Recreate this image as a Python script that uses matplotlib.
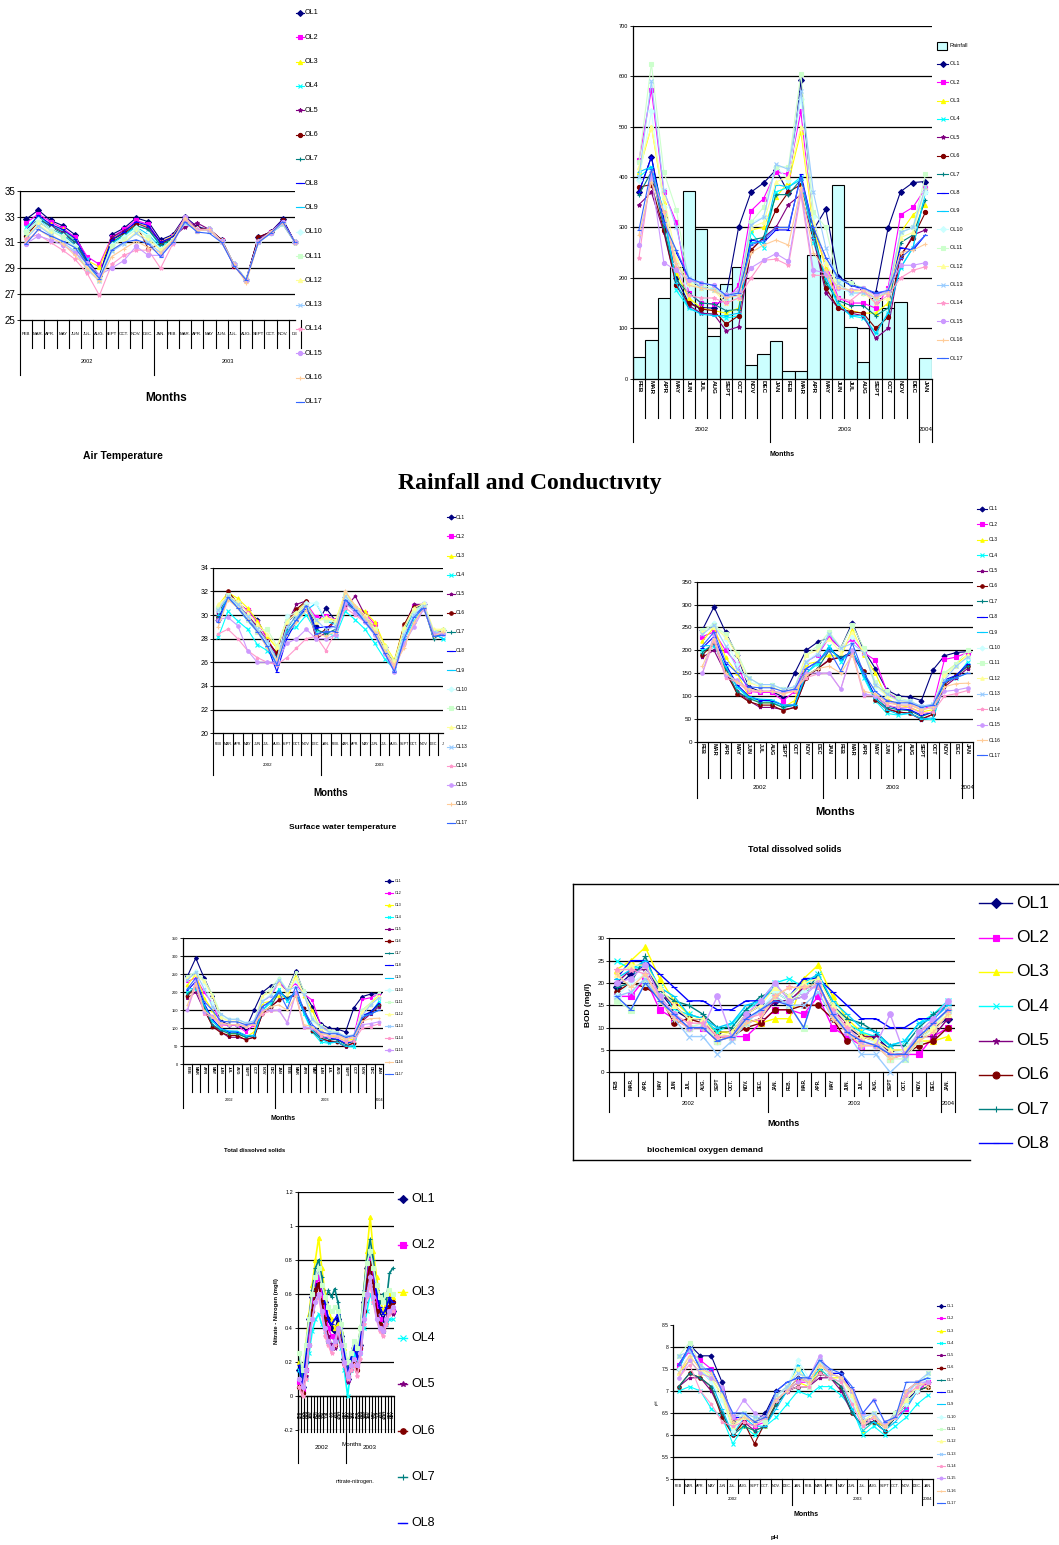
import matplotlib
matplotlib.use("Agg")
import matplotlib.pyplot as plt
import matplotlib.transforms as mtransforms
from matplotlib.lines import Line2D
from matplotlib.patches import Rectangle
import numpy as np

W, H = 1059, 1545
NARROW = ['Liberation Sans', 'DejaVu Sans']
ARIAL = ['Liberation Sans', 'DejaVu Sans']

# ---------------- data ----------------
sites = ['OL%d' % i for i in range(1, 18)]
site_colors = ['#000080', '#FF00FF', '#FFFF00', '#00FFFF', '#800080', '#800000',
               '#008080', '#0000FF', '#00CCFF', '#CCFFFF', '#CCFFCC', '#FFFF99',
               '#99CCFF', '#FF99CC', '#CC99FF', '#FFCC99', '#3366FF']
site_markers = ['D', 's', '^', 'x', '*', 'o', '+', '_', '_',
                'D', 's', '^', 'x', '*', 'o', '+', '_']

months = ["FEB", "MAR.", "APR.", "MAY", "JUN", "JUL.", "AUG.", "SEPT", "OCT.", "NOV.",
          "DEC.", "JAN.", "FEB.", "MAR.", "APR.", "MAY", "JUN.", "JUL.", "AUG.", "SEPT",
          "OCT.", "NOV.", "DEC.", "JAN."]
months_plain = ["FEB", "MAR", "APR", "MAY", "JUN", "JUL", "AUG", "SEPT", "OCT", "NOV",
                "DEC", "JAN", "FEB", "MAR", "APR", "MAY", "JUN", "JUL", "AUG", "SEPT",
                "OCT", "NOV", "DEC", "JAN"]
nitrate_labels = ["FEB", "FEB", "MAR", "MAR", "APR", "APR", "MAY", "MAY", "JUN", "JUN",
                  "JUL", "JUL", "AUG", "SEPT", "OCT", "NOV", "DEC", "JAN", "FEB", "MAR",
                  "MAR", "APR", "APR", "MAY", "JUN", "JUL", "AUG", "SEPT", "OCT", "NOV"]

# air temperature, FEB 2002 .. DEC 2003
air_temp = [
    [32.8, 33.5, 32.7, 32.3, 31.6, 29.7, 28.4, 31.6, 32.1, 32.9, 32.6, 31.2, 31.6, 33.0, 32.2, 32.0, 31.2, 29.3, 28.1, 31.4, 31.8, 32.8, 31.0],
    [32.5, 33.2, 32.6, 32.1, 31.4, 29.9, 29.3, 31.4, 32.0, 32.7, 32.4, 31.0, 31.5, 32.9, 32.1, 32.0, 31.2, 29.2, 28.1, 31.3, 31.8, 32.6, 31.0],
    [32.0, 33.0, 32.4, 32.0, 31.2, 29.6, 29.1, 31.3, 31.8, 32.5, 32.2, 31.0, 31.5, 32.8, 32.0, 32.0, 31.2, 29.3, 28.1, 31.2, 31.8, 32.6, 31.0],
    [32.2, 33.0, 32.3, 31.9, 31.1, 29.7, 28.2, 31.0, 31.6, 32.3, 32.0, 30.7, 31.4, 32.7, 32.0, 32.0, 31.1, 29.3, 28.1, 31.1, 31.7, 32.5, 31.0],
    [31.8, 32.8, 32.3, 31.8, 31.0, 29.5, 28.2, 31.4, 31.9, 32.5, 32.1, 31.0, 31.4, 32.2, 32.5, 32.0, 31.2, 29.3, 28.1, 31.4, 31.8, 32.7, 31.0],
    [31.5, 32.6, 32.0, 31.6, 30.8, 29.4, 28.2, 31.2, 31.7, 32.4, 30.5, 30.9, 31.3, 32.8, 32.1, 32.0, 31.2, 29.2, 28.1, 31.4, 31.8, 32.7, 31.0],
    [31.6, 32.9, 32.2, 31.7, 31.0, 29.5, 28.3, 31.0, 31.6, 32.3, 32.0, 30.8, 31.3, 32.7, 32.0, 32.0, 31.1, 29.3, 28.1, 31.2, 31.7, 32.4, 31.0],
    [31.9, 33.1, 32.4, 32.0, 31.3, 29.6, 28.3, 31.2, 31.8, 32.6, 32.3, 31.0, 31.4, 32.8, 32.0, 32.0, 31.1, 29.3, 28.1, 31.2, 31.8, 32.7, 31.0],
    [31.7, 32.8, 32.0, 31.6, 30.8, 29.3, 28.2, 30.9, 31.5, 32.2, 31.6, 30.6, 31.2, 32.7, 32.0, 32.0, 31.1, 29.3, 28.1, 31.1, 31.7, 32.5, 31.0],
    [31.9, 32.7, 32.0, 31.5, 30.7, 29.2, 28.3, 30.8, 31.4, 32.1, 31.5, 30.5, 31.2, 32.6, 32.0, 32.0, 31.1, 29.3, 28.1, 31.0, 31.7, 32.5, 31.0],
    [31.8, 32.6, 31.9, 31.4, 30.6, 29.1, 28.2, 30.7, 31.3, 32.0, 31.4, 30.4, 31.2, 32.6, 31.9, 32.0, 31.1, 29.3, 28.2, 31.0, 31.7, 32.4, 31.0],
    [31.4, 32.4, 31.7, 31.0, 30.3, 29.0, 28.1, 30.4, 31.0, 31.8, 31.2, 30.4, 31.2, 32.6, 31.9, 32.0, 31.1, 29.3, 28.1, 31.1, 31.8, 32.5, 31.0],
    [31.3, 32.3, 31.6, 31.0, 30.3, 28.9, 28.0, 30.3, 30.9, 31.7, 31.0, 30.2, 31.1, 32.5, 31.9, 32.0, 31.0, 29.3, 28.1, 31.0, 31.7, 32.4, 31.0],
    [31.3, 31.6, 31.0, 30.4, 29.7, 28.6, 26.9, 29.3, 30.0, 30.4, 30.4, 29.0, 30.9, 32.7, 32.0, 32.0, 31.0, 29.3, 28.0, 31.1, 31.8, 32.6, 31.0],
    [30.9, 31.5, 31.2, 30.8, 30.2, 29.4, 28.5, 29.0, 29.6, 30.7, 30.0, 30.0, 31.0, 33.0, 31.9, 32.0, 31.1, 29.3, 28.1, 31.0, 31.7, 32.6, 31.0],
    [31.0, 32.0, 31.4, 30.9, 30.0, 29.0, 28.0, 29.9, 30.5, 31.1, 30.6, 30.2, 31.1, 32.9, 31.9, 32.0, 31.0, 29.3, 27.9, 31.0, 31.8, 32.5, 31.0],
    [30.9, 32.0, 31.5, 31.1, 30.6, 29.3, 28.2, 30.4, 31.0, 31.2, 30.9, 29.9, 31.0, 32.6, 31.8, 31.7, 31.0, 29.2, 28.1, 31.0, 31.7, 32.6, 31.0],
]

# monthly rainfall (bars), FEB 2002 .. JAN 2004
rainfall = [43, 77, 160, 222, 373, 297, 85, 188, 222, 28, 49, 75,
            16, 16, 246, 205, 384, 102, 34, 160, 140, 152, 0, 42]

# conductivity, FEB 2002 .. JAN 2004
conductivity = [
    [370, 440, 320, 200, 150, 141, 140, 165, 300, 370, 388, 414, 369, 592, 295, 336, 202, 189, 177, 169, 299, 371, 389, 391],
    [433, 573, 370, 310, 170, 150, 148, 155, 185, 333, 357, 410, 405, 530, 300, 230, 160, 150, 150, 140, 180, 325, 340, 378],
    [410, 500, 350, 210, 160, 140, 135, 130, 140, 295, 300, 360, 390, 490, 300, 220, 150, 135, 130, 130, 150, 290, 325, 345],
    [400, 420, 330, 175, 140, 130, 128, 120, 125, 290, 260, 370, 380, 400, 270, 200, 145, 125, 120, 90, 130, 220, 260, 370],
    [345, 370, 290, 185, 145, 130, 128, 95, 103, 255, 280, 300, 345, 365, 280, 170, 140, 130, 125, 80, 100, 240, 285, 295],
    [380, 385, 295, 185, 150, 138, 135, 108, 125, 255, 280, 335, 370, 385, 290, 180, 140, 133, 130, 100, 122, 245, 280, 330],
    [365, 410, 300, 195, 170, 150, 148, 135, 137, 275, 280, 365, 365, 395, 295, 190, 155, 145, 145, 125, 140, 270, 285, 355],
    [370, 440, 310, 250, 200, 180, 178, 165, 165, 275, 270, 295, 295, 405, 300, 240, 200, 185, 178, 170, 172, 260, 255, 285],
    [410, 420, 330, 190, 140, 128, 125, 125, 130, 270, 270, 385, 380, 395, 280, 200, 150, 125, 125, 90, 130, 220, 260, 370],
    [395, 530, 340, 230, 185, 180, 178, 165, 170, 310, 320, 420, 395, 555, 320, 230, 180, 170, 170, 160, 170, 290, 300, 370],
    [430, 625, 410, 335, 195, 185, 180, 160, 175, 310, 340, 420, 420, 605, 330, 300, 195, 190, 180, 160, 175, 290, 300, 405],
    [420, 500, 360, 240, 190, 180, 175, 150, 160, 300, 310, 390, 400, 500, 310, 230, 185, 175, 170, 150, 160, 280, 290, 380],
    [400, 590, 375, 300, 200, 180, 175, 160, 170, 305, 320, 425, 415, 570, 370, 260, 190, 170, 170, 160, 172, 290, 300, 380],
    [240, 410, 330, 220, 165, 160, 160, 150, 160, 200, 235, 237, 225, 365, 205, 205, 160, 155, 175, 150, 165, 200, 215, 222],
    [265, 400, 230, 215, 195, 190, 185, 165, 175, 220, 235, 248, 233, 375, 215, 210, 180, 175, 180, 165, 175, 225, 225, 230],
    [285, 390, 330, 230, 185, 180, 175, 160, 165, 250, 265, 275, 265, 380, 250, 215, 180, 175, 175, 160, 170, 250, 255, 267],
    [295, 415, 310, 255, 200, 190, 185, 165, 170, 265, 275, 300, 300, 400, 300, 240, 200, 185, 180, 170, 175, 240, 260, 285],
]

# surface water temperature, FEB 2002 .. JAN 2004
water_temp = [
    [29.6, 31.8, 31.0, 30.4, 29.6, 28.0, 26.6, 29.4, 30.1, 31.1, 29.1, 30.6, 29.5, 31.5, 30.6, 29.9, 28.8, 27.3, 26.0, 28.4, 30.6, 30.9, 28.4, 28.7],
    [30.5, 31.7, 31.0, 30.4, 29.4, 28.0, 26.6, 29.4, 30.3, 31.0, 29.8, 29.9, 29.6, 31.0, 30.5, 30.2, 29.2, 27.2, 26.0, 29.0, 30.8, 30.9, 28.6, 28.6],
    [30.8, 31.9, 31.4, 30.6, 29.5, 28.2, 27.2, 29.6, 30.4, 31.0, 29.5, 29.8, 29.5, 31.9, 30.7, 30.3, 29.4, 27.5, 26.2, 29.2, 30.4, 30.8, 28.6, 28.8],
    [28.1, 30.3, 29.5, 28.8, 27.5, 27.0, 26.0, 28.5, 29.0, 30.0, 28.6, 28.5, 28.2, 30.3, 29.6, 28.8, 27.6, 26.3, 25.4, 27.9, 29.5, 30.8, 28.4, 28.0],
    [30.2, 31.6, 30.8, 30.0, 29.0, 27.8, 26.6, 29.2, 30.9, 31.2, 28.0, 28.5, 29.6, 30.6, 31.6, 30.0, 28.9, 27.2, 26.0, 29.0, 30.9, 30.9, 28.5, 28.6],
    [29.8, 32.0, 31.0, 29.8, 28.8, 27.8, 26.8, 29.3, 30.5, 31.2, 28.2, 28.8, 29.6, 31.0, 30.5, 29.8, 28.8, 27.2, 26.0, 29.2, 30.7, 30.9, 28.5, 28.6],
    [29.8, 31.7, 30.8, 29.8, 28.9, 27.5, 26.4, 28.8, 30.0, 30.8, 28.8, 28.4, 28.8, 31.0, 30.4, 29.6, 28.6, 27.1, 26.1, 28.6, 30.5, 30.7, 28.0, 28.5],
    [29.5, 31.7, 30.8, 29.7, 28.7, 27.4, 25.2, 28.0, 29.5, 30.6, 28.9, 29.0, 29.0, 31.3, 30.4, 29.5, 28.4, 26.8, 25.3, 28.2, 30.0, 30.7, 28.2, 28.4],
    [30.0, 31.5, 30.6, 29.5, 28.6, 27.3, 25.8, 28.6, 29.6, 30.4, 31.0, 29.5, 29.2, 31.2, 30.4, 29.4, 28.3, 26.9, 25.6, 28.5, 30.2, 31.0, 28.4, 28.0],
    [30.4, 31.6, 30.8, 29.8, 28.8, 27.6, 26.2, 29.9, 30.2, 31.0, 31.0, 29.6, 29.4, 31.5, 30.6, 29.6, 28.6, 27.0, 25.8, 28.4, 30.1, 31.0, 28.6, 28.5],
    [30.6, 31.7, 31.0, 29.6, 28.6, 28.8, 27.4, 29.5, 30.1, 30.8, 29.6, 29.6, 29.4, 31.7, 30.6, 29.8, 28.8, 27.3, 26.0, 28.8, 30.4, 30.8, 28.6, 28.7],
    [30.9, 31.6, 31.2, 30.2, 29.2, 28.4, 27.3, 29.4, 30.2, 30.8, 29.4, 29.8, 29.6, 31.9, 30.8, 30.0, 28.9, 27.4, 26.1, 29.0, 30.6, 31.0, 28.8, 28.8],
    [30.4, 31.6, 30.9, 29.9, 28.8, 27.8, 26.2, 29.0, 29.8, 30.8, 29.6, 28.8, 29.0, 31.6, 30.6, 29.6, 28.5, 27.0, 25.3, 28.3, 30.0, 30.8, 28.6, 28.4],
    [28.4, 28.8, 28.0, 27.0, 26.4, 26.0, 25.8, 26.4, 27.2, 28.0, 28.2, 27.0, 28.6, 30.6, 30.0, 29.4, 28.4, 26.8, 25.6, 27.5, 29.3, 30.5, 28.4, 28.4],
    [29.6, 29.8, 29.1, 27.0, 26.0, 26.0, 26.0, 27.6, 28.0, 28.8, 28.0, 28.0, 28.3, 31.0, 30.2, 29.4, 28.3, 26.7, 25.2, 27.6, 29.0, 30.5, 28.4, 28.4],
    [29.0, 31.3, 30.6, 29.6, 28.6, 27.2, 26.2, 28.4, 29.4, 30.4, 28.4, 28.2, 28.6, 32.0, 30.8, 29.8, 28.6, 27.0, 25.8, 27.2, 29.4, 30.6, 28.2, 28.6],
    [29.4, 31.5, 30.6, 29.6, 28.6, 27.4, 25.8, 28.4, 29.6, 30.8, 28.4, 28.6, 28.6, 31.3, 30.4, 29.4, 28.4, 26.8, 25.2, 28.0, 29.8, 30.6, 28.2, 28.3],
]

# total dissolved solids, FEB 2002 .. JAN 2004
tds = [
    [245, 295, 240, 190, 120, 110, 110, 98, 150, 200, 218, 228, 205, 260, 200, 160, 113, 100, 98, 90, 157, 188, 195, 197],
    [230, 240, 200, 170, 110, 108, 108, 90, 110, 175, 190, 228, 205, 225, 195, 178, 110, 90, 85, 70, 80, 180, 185, 195],
    [220, 250, 185, 150, 100, 85, 85, 75, 90, 170, 175, 190, 185, 245, 190, 150, 95, 80, 75, 65, 70, 150, 170, 190],
    [200, 210, 160, 120, 95, 90, 88, 75, 80, 150, 170, 210, 175, 200, 140, 90, 62, 58, 62, 50, 48, 130, 140, 175],
    [185, 200, 150, 110, 90, 75, 75, 70, 75, 140, 160, 180, 185, 190, 150, 95, 72, 65, 62, 48, 60, 120, 140, 160],
    [190, 215, 155, 105, 88, 80, 80, 68, 75, 140, 160, 178, 185, 195, 155, 92, 70, 65, 62, 50, 60, 125, 145, 165],
    [195, 215, 160, 110, 95, 85, 85, 75, 80, 145, 160, 200, 185, 195, 150, 95, 75, 70, 68, 55, 65, 130, 145, 165],
    [205, 230, 170, 125, 100, 90, 90, 80, 80, 160, 175, 205, 180, 200, 145, 100, 80, 72, 70, 58, 65, 135, 145, 170],
    [210, 210, 165, 120, 98, 93, 92, 80, 80, 150, 175, 205, 178, 200, 145, 95, 70, 60, 62, 50, 52, 132, 140, 150],
    [240, 260, 225, 170, 130, 125, 125, 115, 120, 175, 195, 240, 205, 230, 200, 120, 100, 90, 88, 75, 80, 150, 165, 185],
    [245, 255, 235, 195, 140, 125, 125, 115, 118, 190, 210, 240, 205, 255, 205, 130, 110, 95, 90, 75, 80, 150, 170, 200],
    [240, 250, 230, 190, 130, 120, 120, 110, 115, 190, 200, 225, 195, 240, 195, 125, 100, 90, 85, 70, 75, 145, 165, 190],
    [235, 255, 210, 160, 140, 125, 125, 115, 120, 175, 190, 235, 205, 215, 195, 125, 105, 90, 88, 78, 82, 135, 165, 185],
    [150, 220, 140, 130, 110, 110, 110, 105, 112, 140, 148, 150, 115, 195, 100, 100, 80, 75, 75, 62, 65, 100, 105, 112],
    [150, 235, 145, 135, 115, 110, 110, 108, 115, 150, 150, 150, 115, 200, 105, 100, 90, 80, 80, 70, 75, 110, 113, 118],
    [165, 225, 150, 130, 115, 110, 110, 105, 110, 145, 160, 165, 150, 190, 110, 105, 85, 80, 80, 70, 75, 120, 127, 128],
    [210, 240, 175, 150, 120, 118, 118, 110, 115, 160, 175, 200, 155, 215, 150, 110, 90, 85, 85, 75, 80, 130, 140, 150],
]

# biochemical oxygen demand (mg/l), FEB 2002 .. JAN 2004
bod = [
    [19, 22, 24, 18, 14, 12, 12, 9, 9, 13, 15, 16, 16, 18, 20, 13, 10, 8, 8, 5, 5, 8, 10, 12],
    [17, 17, 21, 14, 12, 10, 10, 7, 8, 8, 11, 14, 14, 13, 17, 10, 8, 6, 6, 3, 4, 4, 8, 10],
    [23, 25, 28, 21, 16, 13, 12, 9, 9, 12, 11, 12, 12, 21, 24, 17, 12, 9, 7, 5, 5, 7, 7, 8],
    [25, 23, 24, 19, 14, 13, 12, 9, 11, 14, 16, 20, 21, 19, 22, 15, 11, 9, 8, 6, 7, 11, 13, 16],
    [20, 23, 23, 18, 15, 12, 12, 8, 8, 11, 12, 16, 16, 19, 19, 14, 11, 8, 8, 4, 4, 8, 8, 12],
    [18, 20, 19, 17, 11, 12, 11, 8, 8, 10, 11, 14, 14, 15, 15, 12, 7, 8, 7, 4, 4, 6, 7, 10],
    [19, 20, 26, 18, 16, 15, 13, 10, 10, 14, 17, 18, 16, 17, 22, 15, 12, 11, 9, 6, 6, 10, 13, 15],
    [21, 25, 25, 22, 19, 16, 16, 14, 14, 16, 16, 19, 17, 21, 21, 18, 15, 12, 12, 10, 10, 12, 12, 15],
    [21, 23, 25, 19, 17, 13, 12, 10, 11, 15, 16, 19, 17, 20, 22, 16, 13, 10, 9, 6, 7, 11, 12, 15],
    [17, 20, 22, 17, 13, 10, 11, 7, 8, 11, 14, 18, 16, 18, 20, 13, 10, 7, 7, 4, 5, 9, 11, 14],
    [16, 14, 20, 17, 13, 10, 11, 7, 8, 11, 14, 17, 15, 10, 20, 13, 10, 7, 6, 3, 3, 7, 10, 14],
    [22, 24, 24, 19, 15, 12, 12, 8, 9, 13, 15, 19, 17, 20, 21, 15, 11, 8, 7, 5, 5, 8, 10, 13],
    [17, 18, 21, 16, 12, 8, 8, 4, 7, 11, 14, 17, 15, 15, 18, 12, 9, 4, 4, 0, 3, 9, 11, 14],
    [23, 23, 22, 17, 13, 11, 11, 8, 8, 12, 13, 17, 19, 19, 19, 14, 10, 7, 6, 4, 4, 9, 11, 14],
    [20, 21, 24, 17, 13, 10, 10, 17, 8, 13, 16, 20, 16, 17, 20, 13, 9, 6, 6, 13, 4, 9, 12, 16],
    [22, 19, 22, 16, 12, 10, 10, 7, 8, 11, 12, 17, 19, 19, 20, 12, 9, 6, 6, 3, 4, 7, 9, 13],
    [17, 14, 20, 16, 13, 10, 10, 7, 8, 12, 14, 16, 15, 10, 20, 13, 9, 7, 6, 4, 4, 8, 11, 14],
]

# nitrate-nitrogen (mg/l), 30 sampling dates
nitrate_sites = [0, 1, 2, 3, 4, 5, 6, 7, 10, 13, 14]
nitrate = [
    [0.15, 0.05, 0.20, 0.45, 0.58, 0.65, 0.70, 0.62, 0.55, 0.45, 0.40, 0.38, 0.45, 0.35, 0.22, 0.10, 0.20, 0.28, 0.20, 0.30, 0.55, 0.75, 0.82, 0.72, 0.60, 0.50, 0.45, 0.50, 0.55, 0.50],
    [0.08, 0.03, 0.15, 0.35, 0.55, 0.68, 0.70, 0.60, 0.50, 0.40, 0.35, 0.32, 0.40, 0.32, 0.20, 0.10, 0.18, 0.25, 0.18, 0.28, 0.50, 0.70, 0.80, 0.70, 0.55, 0.45, 0.40, 0.45, 0.52, 0.50],
    [0.20, 0.12, 0.30, 0.48, 0.65, 0.80, 0.93, 0.75, 0.60, 0.52, 0.45, 0.40, 0.42, 0.38, 0.28, 0.18, 0.25, 0.30, 0.25, 0.40, 0.60, 0.85, 1.05, 0.85, 0.70, 0.58, 0.50, 0.55, 0.60, 0.58],
    [0.15, 0.08, 0.10, 0.25, 0.38, 0.45, 0.48, 0.42, 0.38, 0.32, 0.30, 0.32, 0.35, 0.28, 0.15, 0.00, 0.15, 0.25, 0.20, 0.25, 0.40, 0.50, 0.60, 0.55, 0.48, 0.42, 0.38, 0.42, 0.45, 0.45],
    [0.05, 0.02, 0.12, 0.30, 0.50, 0.60, 0.65, 0.55, 0.45, 0.35, 0.30, 0.28, 0.35, 0.30, 0.18, 0.08, 0.15, 0.22, 0.15, 0.25, 0.45, 0.65, 0.75, 0.65, 0.50, 0.42, 0.38, 0.42, 0.50, 0.48],
    [0.05, 0.02, 0.15, 0.30, 0.50, 0.62, 0.66, 0.55, 0.45, 0.32, 0.28, 0.30, 0.40, 0.32, 0.20, 0.12, 0.18, 0.20, 0.15, 0.28, 0.50, 0.68, 0.78, 0.65, 0.50, 0.42, 0.38, 0.45, 0.52, 0.55],
    [0.25, 0.10, 0.25, 0.45, 0.62, 0.75, 0.80, 0.70, 0.55, 0.62, 0.58, 0.63, 0.55, 0.42, 0.30, 0.15, 0.22, 0.30, 0.25, 0.40, 0.62, 0.80, 0.92, 0.80, 0.62, 0.55, 0.60, 0.55, 0.72, 0.75],
    [0.18, 0.05, 0.25, 0.45, 0.60, 0.70, 0.75, 0.65, 0.55, 0.45, 0.42, 0.45, 0.48, 0.40, 0.25, 0.12, 0.22, 0.30, 0.22, 0.35, 0.58, 0.78, 0.85, 0.75, 0.60, 0.52, 0.48, 0.52, 0.58, 0.55],
    [0.25, 0.15, 0.30, 0.45, 0.60, 0.70, 0.75, 0.65, 0.58, 0.52, 0.50, 0.52, 0.50, 0.42, 0.30, 0.20, 0.25, 0.32, 0.28, 0.40, 0.60, 0.78, 0.85, 0.75, 0.65, 0.58, 0.55, 0.60, 0.62, 0.60],
    [0.05, 0.00, 0.10, 0.30, 0.45, 0.55, 0.58, 0.48, 0.35, 0.30, 0.25, 0.30, 0.38, 0.30, 0.18, 0.10, 0.15, 0.18, 0.12, 0.22, 0.42, 0.58, 0.65, 0.55, 0.45, 0.38, 0.35, 0.42, 0.48, 0.50],
    [0.10, 0.05, 0.15, 0.30, 0.45, 0.55, 0.60, 0.50, 0.40, 0.32, 0.28, 0.32, 0.40, 0.30, 0.20, 0.12, 0.18, 0.22, 0.18, 0.25, 0.45, 0.60, 0.70, 0.58, 0.45, 0.40, 0.38, 0.45, 0.50, 0.52],
]

# pH, FEB 2002 .. JAN 2004
ph = [
    [7.5, 8.05, 7.8, 7.8, 7.2, 6.3, 6.4, 6.3, 6.5, 7.0, 7.0, 7.3, 7.2, 7.6, 7.4, 7.4, 7.0, 6.3, 6.3, 6.2, 6.5, 6.8, 7.0, 7.2],
    [7.6, 7.9, 7.7, 7.5, 7.0, 6.4, 6.3, 6.2, 6.3, 6.8, 7.0, 7.2, 7.2, 7.6, 7.4, 7.3, 7.0, 6.3, 6.4, 6.2, 6.4, 6.6, 7.0, 7.2],
    [7.4, 7.7, 7.4, 7.3, 6.9, 6.1, 6.2, 6.1, 6.2, 6.8, 7.0, 7.2, 7.1, 7.5, 7.3, 7.3, 7.0, 6.1, 6.3, 6.2, 6.4, 6.7, 7.0, 7.1],
    [7.0, 7.1, 7.0, 6.6, 6.4, 5.8, 6.2, 6.0, 6.2, 6.4, 6.7, 7.0, 6.9, 7.1, 7.1, 6.9, 6.6, 6.0, 6.2, 6.0, 6.2, 6.4, 6.7, 6.9],
    [7.1, 7.3, 7.3, 7.0, 6.5, 6.0, 6.3, 6.1, 6.2, 6.7, 7.0, 7.1, 7.1, 7.3, 7.3, 7.0, 6.5, 6.2, 6.3, 6.1, 6.4, 6.7, 7.0, 7.1],
    [7.1, 7.4, 7.3, 7.1, 6.4, 6.0, 6.3, 5.8, 6.3, 6.7, 7.0, 7.1, 7.1, 7.4, 7.3, 7.1, 6.5, 6.2, 6.3, 6.1, 6.4, 6.7, 7.0, 7.1],
    [7.1, 7.4, 7.3, 7.1, 6.5, 6.0, 6.2, 6.1, 6.2, 6.7, 7.0, 7.1, 7.1, 7.4, 7.3, 7.1, 6.5, 6.2, 6.3, 6.1, 6.4, 6.7, 7.0, 7.1],
    [7.6, 8.0, 7.5, 7.5, 7.0, 6.4, 6.4, 6.3, 6.4, 7.0, 7.2, 7.3, 7.3, 7.7, 7.4, 7.4, 7.0, 6.3, 6.4, 6.2, 6.4, 7.0, 7.2, 7.3],
    [7.5, 8.0, 7.5, 7.2, 6.6, 6.0, 6.4, 6.2, 6.2, 6.6, 7.0, 7.6, 7.2, 7.5, 7.3, 7.2, 6.6, 6.1, 6.3, 6.1, 6.3, 6.6, 7.0, 7.3],
    [7.5, 7.8, 7.5, 7.2, 6.8, 6.1, 6.4, 6.3, 6.3, 6.8, 7.1, 7.7, 7.3, 7.6, 7.3, 7.2, 6.8, 6.2, 6.4, 6.2, 6.4, 6.7, 7.0, 7.3],
    [7.8, 8.1, 7.6, 7.3, 6.9, 6.2, 6.5, 6.4, 6.3, 6.9, 7.1, 7.5, 7.1, 7.7, 7.4, 7.3, 6.9, 6.3, 6.5, 6.2, 6.5, 6.8, 7.1, 7.4],
    [7.4, 7.8, 7.5, 7.3, 6.9, 6.2, 6.4, 6.3, 6.4, 6.9, 7.1, 7.5, 7.2, 7.6, 7.4, 7.3, 6.9, 6.3, 6.5, 6.2, 6.4, 6.8, 7.1, 7.2],
    [7.8, 7.9, 7.6, 7.4, 7.0, 6.4, 6.5, 6.4, 6.4, 6.9, 7.1, 7.4, 7.3, 7.7, 7.4, 7.3, 7.0, 6.4, 6.5, 6.2, 6.4, 6.9, 7.2, 7.4],
    [7.3, 7.6, 7.0, 6.7, 6.3, 6.2, 6.3, 6.2, 6.4, 6.8, 7.0, 7.1, 7.1, 7.4, 7.3, 7.2, 6.7, 6.2, 6.4, 6.2, 6.4, 6.9, 7.1, 7.2],
    [7.3, 7.7, 7.4, 7.3, 7.1, 6.4, 6.8, 6.5, 6.4, 6.8, 7.0, 7.2, 7.3, 7.8, 7.4, 7.3, 7.0, 6.5, 6.8, 6.3, 6.4, 7.0, 7.2, 7.2],
    [7.4, 7.8, 7.5, 7.4, 7.0, 6.3, 6.4, 6.3, 6.4, 6.8, 7.0, 7.3, 7.2, 7.6, 7.4, 7.3, 7.0, 6.3, 6.4, 6.2, 6.4, 7.0, 7.2, 7.1],
    [7.6, 8.0, 7.5, 7.5, 7.0, 6.5, 6.5, 6.3, 6.4, 7.0, 7.2, 7.3, 7.3, 7.7, 7.5, 7.4, 7.1, 6.5, 6.8, 6.3, 6.4, 7.2, 7.2, 7.3],
]

fig = plt.figure(figsize=(W / 100, H / 100), dpi=100)
fig.patch.set_facecolor('white')


def fx(px):
    return px / W


def fy(py):
    return 1 - py / H


def panel(x0, y0, x1, y1, ylim, ystep, yfs, yfam=NARROW, top_grid=True):
    ax = fig.add_axes([fx(x0), fy(y1), (x1 - x0) / W, (y1 - y0) / H])
    ax.set_ylim(ylim)
    ticks = np.round(np.arange(ylim[0], ylim[1] + ystep / 2, ystep), 3)
    ax.set_yticks(ticks)
    ax.set_yticklabels(['%g' % t for t in ticks], fontsize=yfs, family=yfam)
    ax.tick_params(axis='y', length=2, width=0.6, pad=1.5)
    grid = ticks[1:] if top_grid else ticks[1:-1]
    for t in grid:
        ax.axhline(t, color='black', lw=0.9, zorder=1)
    ax.spines[['top', 'right']].set_visible(False)
    ax.spines['left'].set_linewidth(0.9)
    ax.spines['bottom'].set_linewidth(0.9)
    ax.patch.set_alpha(0)
    return ax, y1 - y0


def cat_axis(ax, hpx, n, labels, row_px, year_px, splits, years, lab_fs, year_fs,
             rot=0, xmax=None, base=0.0, fam=NARROW, weight='normal', lab_va='center'):
    right = n - 0.5 if xmax is None else xmax
    ax.set_xlim(-0.5, right)
    ax.set_xticks([])
    tr = mtransforms.blended_transform_factory(ax.transData, ax.transAxes)
    r = row_px / hpx
    yb = year_px / hpx
    for k in range(n + 1):
        b = k - 0.5
        if b > right + 1e-9:
            break
        depth = yb if (k == 0 or b in splits) else r
        ax.plot([b, b], [base, base - depth], transform=tr, color='black',
                lw=0.8, clip_on=False)
    for i, lab in enumerate(labels):
        if i > right:
            break
        if lab_va == 'top':
            ax.text(i, base - 1.5 / hpx, lab, transform=tr, ha='center', va='top',
                    rotation=rot, fontsize=lab_fs, family=fam, weight=weight)
        else:
            ax.text(i, base - r / 2, lab, transform=tr, ha='center', va='center',
                    rotation=rot, fontsize=lab_fs, family=fam, weight=weight)
    for xc, yr in years:
        ax.text(xc, base - (r + yb) / 2, yr, transform=tr, ha='center', va='center',
                fontsize=year_fs, family=fam)


def draw_series(ax, values, idx=None, ms=3, lw=0.8):
    idx = list(range(len(values))) if idx is None else idx
    for row, k in zip(values, idx):
        x = np.arange(len(row))
        ax.plot(x, row, color=site_colors[k], marker=site_markers[k], ms=ms, lw=lw,
                mew=0.8, zorder=3, clip_on=False)


def side_legend(xs0, xs1, xt, y_first, dy, idx, fs, ms=3, lw=0.8, fam=NARROW):
    for j, k in enumerate(idx):
        y = fy(y_first + j * dy)
        fig.add_artist(Line2D([fx(xs0), fx(xs1)], [y, y], color=site_colors[k], lw=lw))
        fig.add_artist(Line2D([fx((xs0 + xs1) / 2)], [y], color=site_colors[k], lw=0,
                              marker=site_markers[k], ms=ms, mew=0.8))
        fig.text(fx(xt), y, sites[k], fontsize=fs, family=fam, ha='left', va='center')


all17 = list(range(17))

# ---------------- Air temperature ----------------
ax1, h1 = panel(20, 190.7, 295, 320, (25, 35), 2, 7)
draw_series(ax1, air_temp, ms=3)
cat_axis(ax1, h1, 23, months[:22] + ["DE"], 28, 55, [10.5],
         [(5, '2002'), (16.5, '2003')], 3.2, 4)
ax1.set_xlim(-0.5, 22.0)
fig.text(fx(166), fy(398), 'Months', fontsize=8.5, family=NARROW, weight='bold',
         ha='center', va='center')
fig.text(fx(123), fy(456), 'Air Temperature', fontsize=7.5, family=NARROW,
         weight='bold', ha='center', va='center')
side_legend(296, 304, 305, 13, 24.3, all17, 5.2, ms=3)

# ---------------- Rainfall and conductivity ----------------
ax2, h2 = panel(632.7, 25.7, 931.7, 378.7, (0, 700), 100, 4)
ax2.bar(np.arange(24), rainfall, width=1.0, color='#CCFFFF', edgecolor='black',
        lw=0.8, zorder=2)
draw_series(ax2, conductivity, ms=3)
cat_axis(ax2, h2, 24, months_plain, 39.5, 63, [10.5, 22.5, 23.5],
         [(5, '2002'), (16.5, '2003'), (23, '2004')], 4.5, 4.5, rot=-90,
         weight='bold', lab_va='top')
fig.text(fx(782), fy(455), 'Months', fontsize=5, family=NARROW, weight='bold',
         ha='center', va='center')
fig.add_artist(Rectangle((fx(937), fy(50)), 10 / W, 8 / H, facecolor='#CCFFFF',
                         edgecolor='black', lw=0.8))
fig.text(fx(949), fy(45.7), 'Rainfall', fontsize=4, family=NARROW, ha='left',
         va='center')
side_legend(937, 948, 950, 63.7, 18.4, all17, 4, ms=3)

fig.text(0.5, fy(484), 'Rainfall and Conduct\u0131v\u0131ty', fontsize=17,
         family=['Liberation Serif', 'DejaVu Serif'], weight='bold', ha='center',
         va='center')

# ---------------- Surface water temperature ----------------
ax4, h4 = panel(213.3, 567.7, 443.3, 733.3, (20, 34), 2, 5)
draw_series(ax4, water_temp, ms=2.5)
cat_axis(ax4, h4, 24, months[:23] + ["J"], 22, 42, [10.5],
         [(5, '2002'), (16.5, '2003')], 2.6, 3.2, xmax=23.0)
fig.text(fx(331), fy(793), 'Months', fontsize=7, family=NARROW, weight='bold',
         ha='center', va='center')
fig.text(fx(343), fy(828), 'Surface water temperature', fontsize=6, family=NARROW,
         weight='bold', ha='center', va='center')
side_legend(447, 455, 456, 517.3, 19.1, all17, 3.5, ms=2.5)

# ---------------- Total dissolved solids ----------------
ax5, h5 = panel(696.7, 581.7, 973.3, 741.7, (0, 350), 50, 4.5)
draw_series(ax5, tds, ms=2.5)
cat_axis(ax5, h5, 24, months_plain, 36.5, 56, [10.5, 22.5, 23.5],
         [(5, '2002'), (16.5, '2003'), (23, '2004')], 4, 4.5, rot=-90,
         weight='bold', lab_va='top')
fig.text(fx(835), fy(812), 'Months', fontsize=8, family=NARROW, weight='bold',
         ha='center', va='center')
fig.text(fx(795), fy(850), 'Total dissolved solids', fontsize=6.5, family=NARROW,
         weight='bold', ha='center', va='center')
side_legend(977, 987, 989, 509, 15.4, all17, 3.5, ms=2.5)

# ---------------- Total dissolved solids (small copy) ----------------
ax6, h6 = panel(183.3, 938.3, 383, 1064.3, (0, 350), 50, 2.8)
draw_series(ax6, tds, ms=2)
cat_axis(ax6, h6, 24, months_plain, 27.4, 43.7, [10.5, 22.5, 23.5],
         [(5, '2002'), (16.5, '2003'), (23, '2004')], 2.8, 2.8, rot=-90,
         weight='bold', lab_va='top')
fig.text(fx(283), fy(1119), 'Months', fontsize=5, family=NARROW, weight='bold',
         ha='center', va='center')
fig.text(fx(255), fy(1151), 'Total dissolved solids', fontsize=4.2, family=NARROW,
         weight='bold', ha='center', va='center')
side_legend(385, 393, 395, 880.7, 12.1, all17, 2.6, ms=2)

# ---------------- BOD ----------------
fig.add_artist(Line2D([fx(572.7), fx(572.7)], [fy(884.3), fy(1160)], color='black', lw=1))
fig.add_artist(Line2D([fx(572.7), fx(1059)], [fy(884.3), fy(884.3)], color='black', lw=1))
fig.add_artist(Line2D([fx(572.7), fx(970)], [fy(1160), fy(1160)], color='black', lw=1))
ax7, h7 = panel(609.3, 938.3, 955, 1072.3, (0, 30), 5, 4.5, yfam=ARIAL)
draw_series(ax7, bod, ms=4, lw=1.0)
cat_axis(ax7, h7, 24, months, 23.7, 39.4, [10.5, 22.5, 23.5],
         [(5, '2002'), (16.5, '2003'), (23, '2004')], 3.4, 4.2, rot=90,
         fam=ARIAL, weight='bold')
ax7.set_ylabel('BOD (mg/l)', fontsize=6, family=ARIAL, weight='bold', labelpad=4)
fig.text(fx(783), fy(1123.3), 'Months', fontsize=6.5, family=ARIAL, weight='bold',
         ha='center', va='center')
fig.text(fx(705), fy(1150), 'biochemical oxygen demand', fontsize=6, family=ARIAL,
         weight='bold', ha='center', va='center')
side_legend(979, 1012, 1016, 903.3, 34.3, list(range(8)), 12.5, ms=5, lw=1.0, fam=ARIAL)

# ---------------- Nitrate-nitrogen ----------------
ax8, h8 = panel(297.7, 1191.7, 394.3, 1430, (-0.2, 1.2), 0.2, 4)
ax8.axhline(-0.2, color='black', lw=0.9, zorder=1)
ax8.spines['bottom'].set_position(('data', 0))
draw_series(ax8, nitrate, idx=nitrate_sites, ms=3, lw=1.2)
base8 = 0.2 / 1.4
cat_axis(ax8, h8, 30, nitrate_labels, 36, 66.7, [14.5], [(7, '2002'), (22, '2003')],
         2.6, 4.5, rot=90, base=base8, weight='bold')
ax8.set_ylabel('Nitrate - Nitrogen (mg/l)', fontsize=4.2, family=NARROW,
               weight='bold', labelpad=3)
fig.text(fx(352), fy(1445), 'Months', fontsize=4.5, family=NARROW, ha='center', va='center')
fig.text(fx(355), fy(1481.7), 'nitrate-nitrogen.', fontsize=4, family=NARROW,
         ha='center', va='center')
side_legend(398, 407, 411, 1199, 46.3, list(range(8)), 9, ms=4, lw=1.0)

# ---------------- pH ----------------
ax9, h9 = panel(673.3, 1325, 933.3, 1479, (5, 8.5), 0.5, 3.6, top_grid=False)
draw_series(ax9, ph, ms=2.5)
cat_axis(ax9, h9, 24, months, 14, 26, [10.5, 22.5, 23.5],
         [(5, '2002'), (16.5, '2003'), (23, '2004')], 2.7, 3.2)
ax9.set_ylabel('pH', fontsize=3.2, family=NARROW, labelpad=2)
fig.text(fx(806), fy(1515), 'Months', fontsize=5, family=NARROW, weight='bold',
         ha='center', va='center')
fig.text(fx(775), fy(1538), 'pH', fontsize=4.5, family=NARROW, weight='bold',
         ha='center', va='center')
side_legend(937, 945, 947, 1306, 12.3, all17, 2.8, ms=2)

fig.savefig('out.png', dpi=100, facecolor='white')
